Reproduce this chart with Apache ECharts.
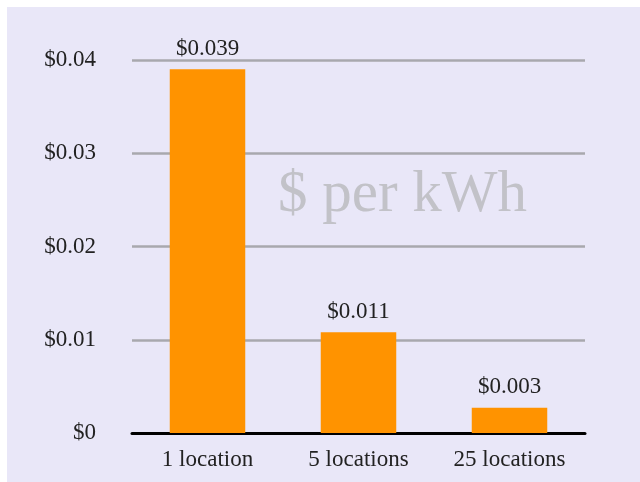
<!DOCTYPE html>
<html>
<head>
<meta charset="utf-8">
<script src="https://cdn.jsdelivr.net/npm/echarts@6/dist/echarts.min.js"></script>
<style>
html,body{margin:0;padding:0;background:#ffffff;}
#c{position:absolute;left:7px;top:7px;width:633px;height:475px;}
</style>
</head>
<body>
<div id="c"></div>
<script>
const categories = ['1 location', '5 locations', '25 locations'];
const values = [0.039, 0.0108, 0.0027];
const yTicks = [0, 0.01, 0.02, 0.03, 0.04];
const titleText = '$ per kWh';

const chart = echarts.init(document.getElementById('c'));
const serif = '"Liberation Serif", "DejaVu Serif", serif';
chart.setOption({
  backgroundColor: '#E9E7F8',
  animation: false,
  grid: {left: 125, right: 55, top: 53, bottom: 49, containLabel: false},
  graphic: [{
    type: 'text',
    left: 271,
    top: 159,
    style: {text: titleText, font: '59px ' + serif, fill: '#C2C2C8'}
  }],
  xAxis: {
    type: 'category',
    data: categories,
    axisTick: {show: false},
    axisLine: {lineStyle: {color: '#000', width: 3}},
    axisLabel: {fontFamily: serif, fontSize: 23, color: '#222', margin: 15}
  },
  yAxis: {
    type: 'value',
    min: yTicks[0],
    max: yTicks[yTicks.length - 1],
    interval: 0.01,
    axisLine: {show: false},
    axisTick: {show: false},
    splitLine: {lineStyle: {color: '#A8A8AE', width: 2.5}},
    axisLabel: {
      fontFamily: serif, fontSize: 23, color: '#222', margin: 36,
      formatter: v => '$' + (v === 0 ? '0' : v.toFixed(2))
    }
  },
  series: [{
    type: 'bar',
    data: values,
    barWidth: '50%',
    itemStyle: {color: '#FF9300'},
    label: {
      show: true, position: 'top', distance: 9,
      fontFamily: serif, fontSize: 23, color: '#222',
      formatter: p => '$' + p.value.toFixed(3)
    }
  }]
});
</script>
</body>
</html>
